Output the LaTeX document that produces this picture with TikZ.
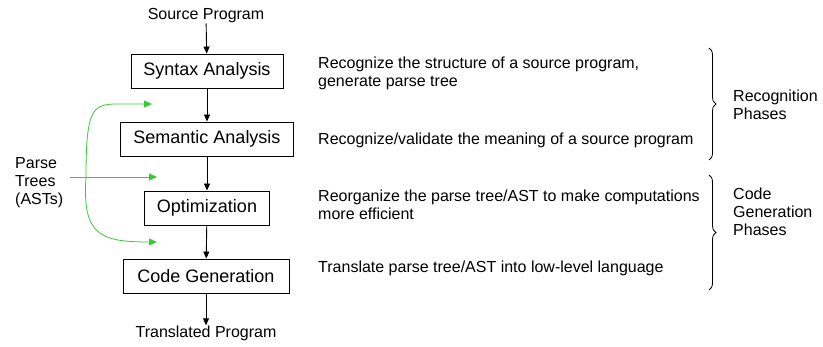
\documentclass[tikz,border=0pt]{standalone}
\usepackage{fontspec}
\setmainfont{Liberation Sans}
\usetikzlibrary{arrows.meta,decorations.pathreplacing}
\definecolor{pgreen}{RGB}{51,204,51}
\begin{document}
\begin{tikzpicture}[x=1pt,y=-1pt,
  phase/.style={draw,line width=0.9pt,font=\fontsize{18}{20}\selectfont,minimum height=34pt,inner xsep=9pt,inner ysep=0pt},
  lbl/.style={font=\fontsize{16}{18}\selectfont,inner sep=0pt},
  desc/.style={font=\fontsize{16}{18}\selectfont,align=left,anchor=west,inner sep=0pt},
  flow/.style={-{Triangle[length=7pt,width=6pt]},line width=0.9pt},
  gflow/.style={-{Triangle[length=8pt,width=7pt]},line width=0.8pt,draw=pgreen,color=pgreen},
  brc/.style={decorate,decoration={brace,amplitude=7pt},line width=0.8pt}]
\useasboundingbox (0,0) rectangle (823,347);
\node[lbl] (src) at (206,16) {Source Program};
\node[phase,minimum width=152pt] (syn) at (207,71) {Syntax Analysis};
\node[phase,minimum width=173pt] (sem) at (207,139) {Semantic Analysis};
\node[phase,minimum width=125pt] (opt) at (207,208) {Optimization};
\node[phase,minimum width=166pt] (cg) at (206,276) {Code Generation};
\node[lbl] (tgt) at (206,333) {Translated Program};
\draw[flow] (src) -- (syn);
\draw[flow] (syn) -- (sem);
\draw[flow] (sem) -- (opt);
\draw[flow] (opt) -- (cg);
\draw[flow] (cg) -- (tgt);
\node[lbl,align=left,anchor=west] (pt) at (15,183) {Parse\\Trees\\(ASTs)};
\coordinate (g0) at (70,177);
\coordinate (gm) at (86,177);
\coordinate (g1) at (152,104);
\coordinate (g2) at (157,177);
\coordinate (g3) at (157,242);
\draw[gflow] (g0) -- (g2);
\draw[gflow] (gm) .. controls (86,110) and (92,104) .. (117,104) -- (g1);
\draw[gflow] (gm) .. controls (82,235) and (100,242) .. (g3);
\node[desc] (d1) at (318,73) {Recognize the structure of a source program,\\generate parse tree};
\node[desc] (d2) at (318,140) {Recognize/validate the meaning of a source program};
\node[desc] (d3) at (318,205) {Reorganize the parse tree/AST to make computations\\more efficient};
\node[desc] (d4) at (318,268) {Translate parse tree/AST into low-level language};
\draw[brc] (709,48) -- (709,160);
\draw[brc] (709,175) -- (709,290);
\node[desc] (r1) at (733,105) {Recognition\\Phases};
\node[desc] (r2) at (733,212) {Code\\Generation\\Phases};
\end{tikzpicture}
\end{document}
